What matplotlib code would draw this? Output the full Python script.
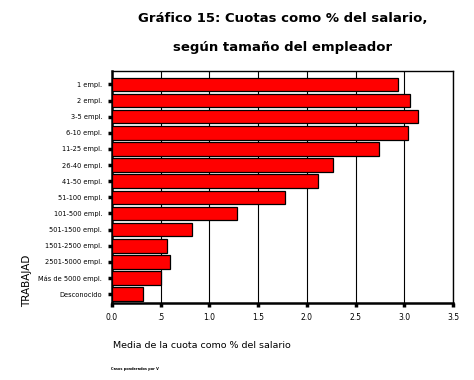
import matplotlib.pyplot as plt

categories = ['1 empl.', '2 empl.', '3-5 empl.', '6-10 empl.', '11-25 empl.',
              '26-40 empl.', '41-50 empl.', '51-100 empl.', '101-500 empl.',
              '501-1500 empl.', '1501-2500 empl.', '2501-5000 empl.',
              'Más de 5000 empl.', 'Desconocido']
values = [2.94, 3.06, 3.14, 3.04, 2.74, 2.27, 2.11, 1.78, 1.28,
          0.82, 0.56, 0.60, 0.50, 0.32]
xticks = [0, 0.5, 1.0, 1.5, 2.0, 2.5, 3.0, 3.5]
xtick_labels = ['0.0', '.5', '1.0', '1.5', '2.0', '2.5', '3.0', '3.5']

fig = plt.figure(figsize=(4.74, 3.8), dpi=100)
# axes box in pixels: left 112, right 453, top 71, bottom 303
ax = fig.add_axes([112/474, 1 - 303/380, (453-112)/474, (303-71)/380])

ypos = list(range(len(categories)))
ax.barh(ypos, values, height=0.84, color='#ff0000', edgecolor='black',
        linewidth=0.9, zorder=3)

ax.set_xlim(0, 3.5)
ax.set_ylim(13.55, -0.83)
ax.set_xticks(xticks)
ax.set_xticklabels(xtick_labels, fontsize=5.5)
ax.set_yticks(ypos)
ax.set_yticklabels(categories, fontsize=4.8)
ax.tick_params(axis='both', length=3, width=2.5, color='black', pad=4)
ax.grid(axis='x', color='black', linewidth=0.8, zorder=0)
for s in ax.spines.values():
    s.set_linewidth(1.0)
ax.spines['left'].set_linewidth(1.8)
ax.spines['bottom'].set_linewidth(1.8)

fig.text(283/474, 1 - 18/380, 'Gráfico 15: Cuotas como % del salario,',
         ha='center', va='center', fontsize=9.5, fontweight='heavy')
fig.text(283/474, 1 - 47/380, 'según tamaño del empleador',
         ha='center', va='center', fontsize=9.5, fontweight='heavy')

fig.text(27/474, 1 - 281/380, 'TRABAJAD', rotation=90, ha='center',
         va='center', fontsize=7.5)
fig.text(113/474, 1 - 345/380, 'Media de la cuota como % del salario',
         ha='left', va='center', fontsize=6.8)
fig.text(111/474, 1 - 369/380, 'Casos ponderados por V', ha='left',
         va='center', fontsize=2.5, fontweight='bold')

fig.savefig('out.png', dpi=100, facecolor='white')
